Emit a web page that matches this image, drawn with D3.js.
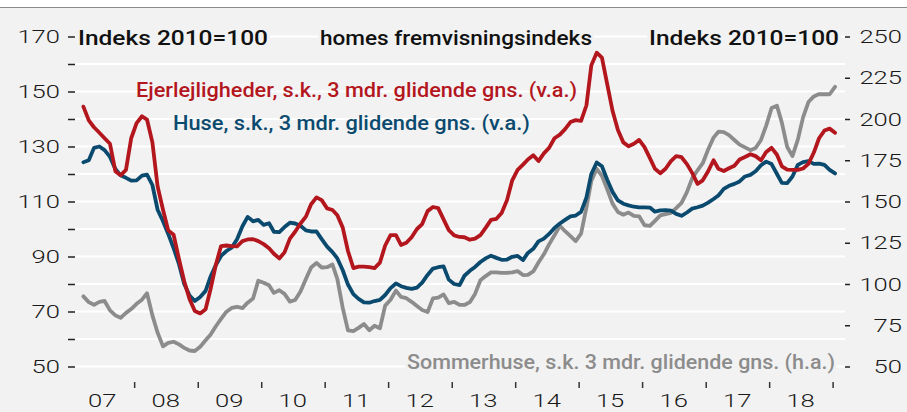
<!DOCTYPE html>
<html>
<head>
<meta charset="utf-8">
<script src="https://cdn.jsdelivr.net/npm/d3@7"></script>
<style>
  body { margin: 0; background: #fff; }
  svg { display: block; font-family: Roboto, "DejaVu Sans", sans-serif; }
</style>
</head>
<body>
<div id="container"></div>
<script>
/* CONSTANTS AND GLOBALS */
const width = 907,
  height = 412

// first month in the series (values are plotted mid-month)
const firstMonth = new Date(2007, 2, 15)

// Ejerlejligheder, s.k., 3 mdr. glidende gns. (left axis)
const ejerlejligheder = [
  144.5, 139.5, 137, 135, 133, 131, 121, 119.5, 121.5, 133,
  138.5, 141, 139.8, 131.5, 115.5, 107, 99.5, 97.9, 89, 81, 74.5, 70.2,
  69.3, 70.8, 78, 87, 93.8, 94, 93.8, 93.7, 95.6, 96.2, 96.3, 95.6,
  94.5, 93, 91, 89.3, 91.5, 96.5, 99, 102, 104.5, 109, 111.5, 110.5,
  107.5, 106.9, 105, 100.5, 92, 85.8, 86.3, 86.3, 86.1, 85.8, 87.8, 94,
  97.8, 97.8, 94.2, 95, 97, 100, 101.8, 106.5, 108, 107.6, 103.5, 99.6,
  97.7, 97.1, 97, 96.1, 96.5, 97.8, 100.4, 103.3, 103.7, 105.8, 110.5, 117.7,
  121.5, 123.4, 125.3, 126.8, 124.7, 127.5, 129.5, 133, 134.3, 136.3, 138.9, 139.6,
  139.3, 145, 159.5, 164.1, 162.3, 152.5, 143, 136, 131.5, 130.1, 131, 132.4,
  129.8, 125.8, 121.9, 120.3, 121.9, 124.7, 126.5, 126.1, 123.6, 120.4, 116.4, 117.7,
  121, 125, 121.9, 121.1, 122.1, 123, 125.3, 126.2, 127.2, 126.5, 125, 128,
  129.5, 127, 122.8, 121.6, 121.5, 121.5, 122, 123.7, 127.8, 133, 135.8, 136.5,
  135
]

// Huse, s.k., 3 mdr. glidende gns. (left axis)
const huse = [
  124.3, 125, 129.5, 130, 128.7, 126.2, 121.8, 119.5, 118.6, 117.6,
  117.7, 119.4, 119.8, 116, 107, 102.8, 98.2, 93, 87.2, 80, 75.8, 73.8,
  75.3, 77.5, 82.6, 86.9, 90.2, 92, 93.2, 96.3, 101, 104.4, 102.8, 103.3,
  101.5, 102.1, 99, 98.9, 100.7, 102.3, 102, 101.2, 99.5, 99.1, 99.1, 96.3,
  93.6, 91.6, 89.3, 85, 79.8, 76.3, 74.6, 73.3, 73.2, 73.8, 74.2, 76,
  78.5, 80.2, 79.2, 78.6, 78.2, 78.7, 80.5, 83.3, 85.6, 86.1, 86.4, 81.6,
  80, 79.6, 83, 84.8, 86.2, 88, 89.3, 90.3, 89.5, 88.8, 88.9, 89.9,
  90.2, 88.7, 91.3, 92.8, 95.5, 96.5, 98.2, 100.4, 102, 103.3, 104.6, 104.9,
  106.2, 111.5, 120, 124.2, 122.8, 117.8, 113.5, 110.4, 109.2, 108.6, 108.1, 107.9,
  107.9, 107.8, 106.3, 106.8, 106.9, 106.7, 105.5, 104.8, 106, 107.4, 107.9, 108.5,
  109.6, 110.9, 112.2, 114.6, 115.7, 116.4, 117.3, 119.1, 119.7, 121, 123.2, 124.5,
  123.6, 120, 116.8, 116.7, 119.1, 123.3, 124.3, 124.7, 123.7, 123.8, 123.3, 121.5,
  120.2
]

// Sommerhuse, s.k. 3 mdr. glidende gns. (right axis)
const sommerhuse = [
  92.5, 89, 87.4, 89.2, 89.7, 84, 81, 79.5, 82.5, 84.8,
  88, 90.5, 94.4, 81, 70.5, 62.2, 64.3, 65, 63.4, 61.3, 59.7, 59.4,
  62, 65.9, 69.3, 74.4, 78.8, 83.2, 85.5, 86.2, 85.4, 88.7, 91.2, 102,
  100.8, 99.2, 94.6, 96.2, 94, 89.3, 90.3, 95.5, 103, 110, 112.8, 110,
  110.2, 111.8, 103, 85.5, 71.9, 71.5, 73.4, 75.8, 72, 74.7, 73.2, 86.9,
  90.5, 96, 92.2, 91.4, 89.2, 86.6, 84.2, 83, 91.3, 91.7, 93.7, 88.4,
  89.2, 87.3, 87.3, 89, 94, 102.3, 104.8, 107, 107.1, 106.8, 106.8, 107.1,
  107.8, 105.4, 105.5, 107.6, 113, 118, 124, 129.5, 135.3, 132, 129, 126,
  130.5, 146.5, 162.5, 169.8, 165.5, 157.2, 148.7, 143.6, 142, 143.3, 141.3, 141,
  135.6, 135.2, 138.3, 141.6, 142.4, 143.1, 146, 149.2, 155.7, 164, 168.9, 173.2,
  181.5, 188.7, 192.3, 192, 190.2, 187.3, 184.5, 182.8, 181.1, 182.4, 187.3, 196,
  206.6, 208, 197.8, 183, 177.5, 187.5, 201, 210.3, 213.7, 215.1, 215, 215,
  219.5
]

const leftTicks = [50, 60, 70, 80, 90, 100, 110, 120, 130, 140, 150, 160, 170]
const leftLabels = [50, 70, 90, 110, 130, 150, 170]
const rightTicks = [50, 75, 100, 125, 150, 175, 200, 225, 250]
const yearLabels = ["07", "08", "09", "10", "11", "12", "13", "14", "15", "16", "17", "18"]

const colors = { red: "#b3161d", blue: "#0b4a6f", gray: "#8c8c8c", bg: "#f2f2f2" }

const dates = ejerlejligheder.map((d, i) => d3.timeMonth.offset(firstMonth, i))

/* SCALES */
const xScale = d3.scaleTime()
  .domain([new Date(2007, 0, 1), new Date(2019, 0, 1)])
  .range([70.7, 832.6])

const yLeft = d3.scaleLinear().domain([50, 170]).range([366.5, 36.5])
const yRight = d3.scaleLinear().domain([50, 250]).range([366.5, 36.5])

const plotLeft = 75, plotRight = 845

/* SVG */
const svg = d3.select("#container")
  .append("svg")
  .attr("width", width)
  .attr("height", height)

svg.append("rect")
  .attr("x", 0).attr("y", 7)
  .attr("width", width).attr("height", height - 7)
  .attr("fill", colors.bg)

svg.append("line")
  .attr("x1", 0).attr("x2", width)
  .attr("y1", 7.5).attr("y2", 7.5)
  .attr("stroke", "#8a8a8a")
  .attr("stroke-width", 1)

// gridlines
svg.append("g")
  .selectAll("line")
  .data(leftTicks)
  .join("line")
  .attr("x1", plotLeft).attr("x2", plotRight)
  .attr("y1", d => yLeft(d)).attr("y2", d => yLeft(d))
  .attr("stroke", "#fff")
  .attr("stroke-width", 2)

/* AXES */
const tickText = sel => sel
  .attr("font-size", 19)
  .attr("font-weight", 300)
  .attr("fill", "#1a1a1a")
  .attr("font-family", "Roboto, sans-serif")
  .attr("textLength", function () { return this.textContent.length * 14.2 })
  .attr("lengthAdjust", "spacingAndGlyphs")

const leftAxis = svg.append("g")
  .attr("transform", `translate(${plotLeft},0)`)
  .call(d3.axisLeft(yLeft)
    .tickValues(leftTicks)
    .tickSize(7)
    .tickPadding(8)
    .tickFormat(d => leftLabels.includes(d) ? d : ""))
leftAxis.select(".domain").remove()
leftAxis.selectAll("line").attr("stroke", "#222").attr("stroke-width", 1.5)
leftAxis.selectAll("text").call(tickText)

const rightAxis = svg.append("g")
  .attr("transform", `translate(${plotRight},0)`)
  .call(d3.axisRight(yRight)
    .tickValues(rightTicks)
    .tickSize(5)
    .tickPadding(0))
rightAxis.select(".domain").remove()
rightAxis.selectAll("line").attr("stroke", "#222").attr("stroke-width", 1.5)
rightAxis.selectAll("text")
  .attr("x", 57)
  .attr("text-anchor", "end")
  .call(tickText)

const xAxis = svg.append("g")
  .attr("transform", "translate(0,382)")
  .call(d3.axisBottom(xScale)
    .tickValues(d3.range(2008, 2020).map(y => new Date(y, 0, 1)))
    .tickSize(6)
    .tickFormat(""))
xAxis.select(".domain").remove()
xAxis.selectAll("line").attr("stroke", "#333").attr("stroke-width", 1.5)

svg.append("g")
  .selectAll("text")
  .data(yearLabels)
  .join("text")
  .attr("x", (d, i) => xScale(new Date(2007, 6 + 12 * i, 1)))
  .attr("y", 407)
  .attr("text-anchor", "middle")
  .text(d => d)
  .call(tickText)
  .attr("font-size", 18)

/* LINES */
const lineLeft = d3.line()
  .x((d, i) => xScale(dates[i]))
  .y(d => yLeft(d))
const lineRight = d3.line()
  .x((d, i) => xScale(dates[i]))
  .y(d => yRight(d))

const series = [
  { values: sommerhuse, gen: lineRight, color: colors.gray },
  { values: huse, gen: lineLeft, color: colors.blue },
  { values: ejerlejligheder, gen: lineLeft, color: colors.red }
]

svg.selectAll(".line")
  .data(series)
  .join("path")
  .attr("class", "line")
  .attr("fill", "none")
  .attr("stroke", d => d.color)
  .attr("stroke-width", 3.8)
  .attr("stroke-linejoin", "round")
  .attr("stroke-linecap", "round")
  .attr("d", d => d.gen(d.values))

/* LABELS */
const labels = [
  { text: "Indeks 2010=100", x: 78, y: 45, w: 190, color: "#111" },
  { text: "homes fremvisningsindeks", x: 320, y: 45, w: 272, color: "#111" },
  { text: "Indeks 2010=100", x: 649, y: 45, w: 190, color: "#111" },
  { text: "Ejerlejligheder, s.k., 3 mdr. glidende gns. (v.a.)", x: 136, y: 97, w: 441, color: colors.red },
  { text: "Huse, s.k., 3 mdr. glidende gns. (v.a.)", x: 173, y: 130, w: 357, color: colors.blue },
  { text: "Sommerhuse, s.k. 3 mdr. glidende gns. (h.a.)", x: 407, y: 369, w: 428, color: colors.gray }
]

const labelG = svg.selectAll(".label")
  .data(labels)
  .join("g")
  .attr("class", "label")

labelG.append("rect")
  .attr("x", d => d.x - 2)
  .attr("y", d => d.y - 17)
  .attr("width", d => d.w + 4)
  .attr("height", 22)
  .attr("fill", colors.bg)
  .attr("opacity", (d, i) => i < 3 || i === 5 ? 1 : 0)

labelG.append("text")
  .attr("x", d => d.x)
  .attr("y", d => d.y)
  .attr("font-size", 21)
  .attr("font-weight", 500)
  .attr("fill", d => d.color)
  .attr("textLength", d => d.w)
  .attr("lengthAdjust", "spacingAndGlyphs")
  .text(d => d.text)
</script>
</body>
</html>
